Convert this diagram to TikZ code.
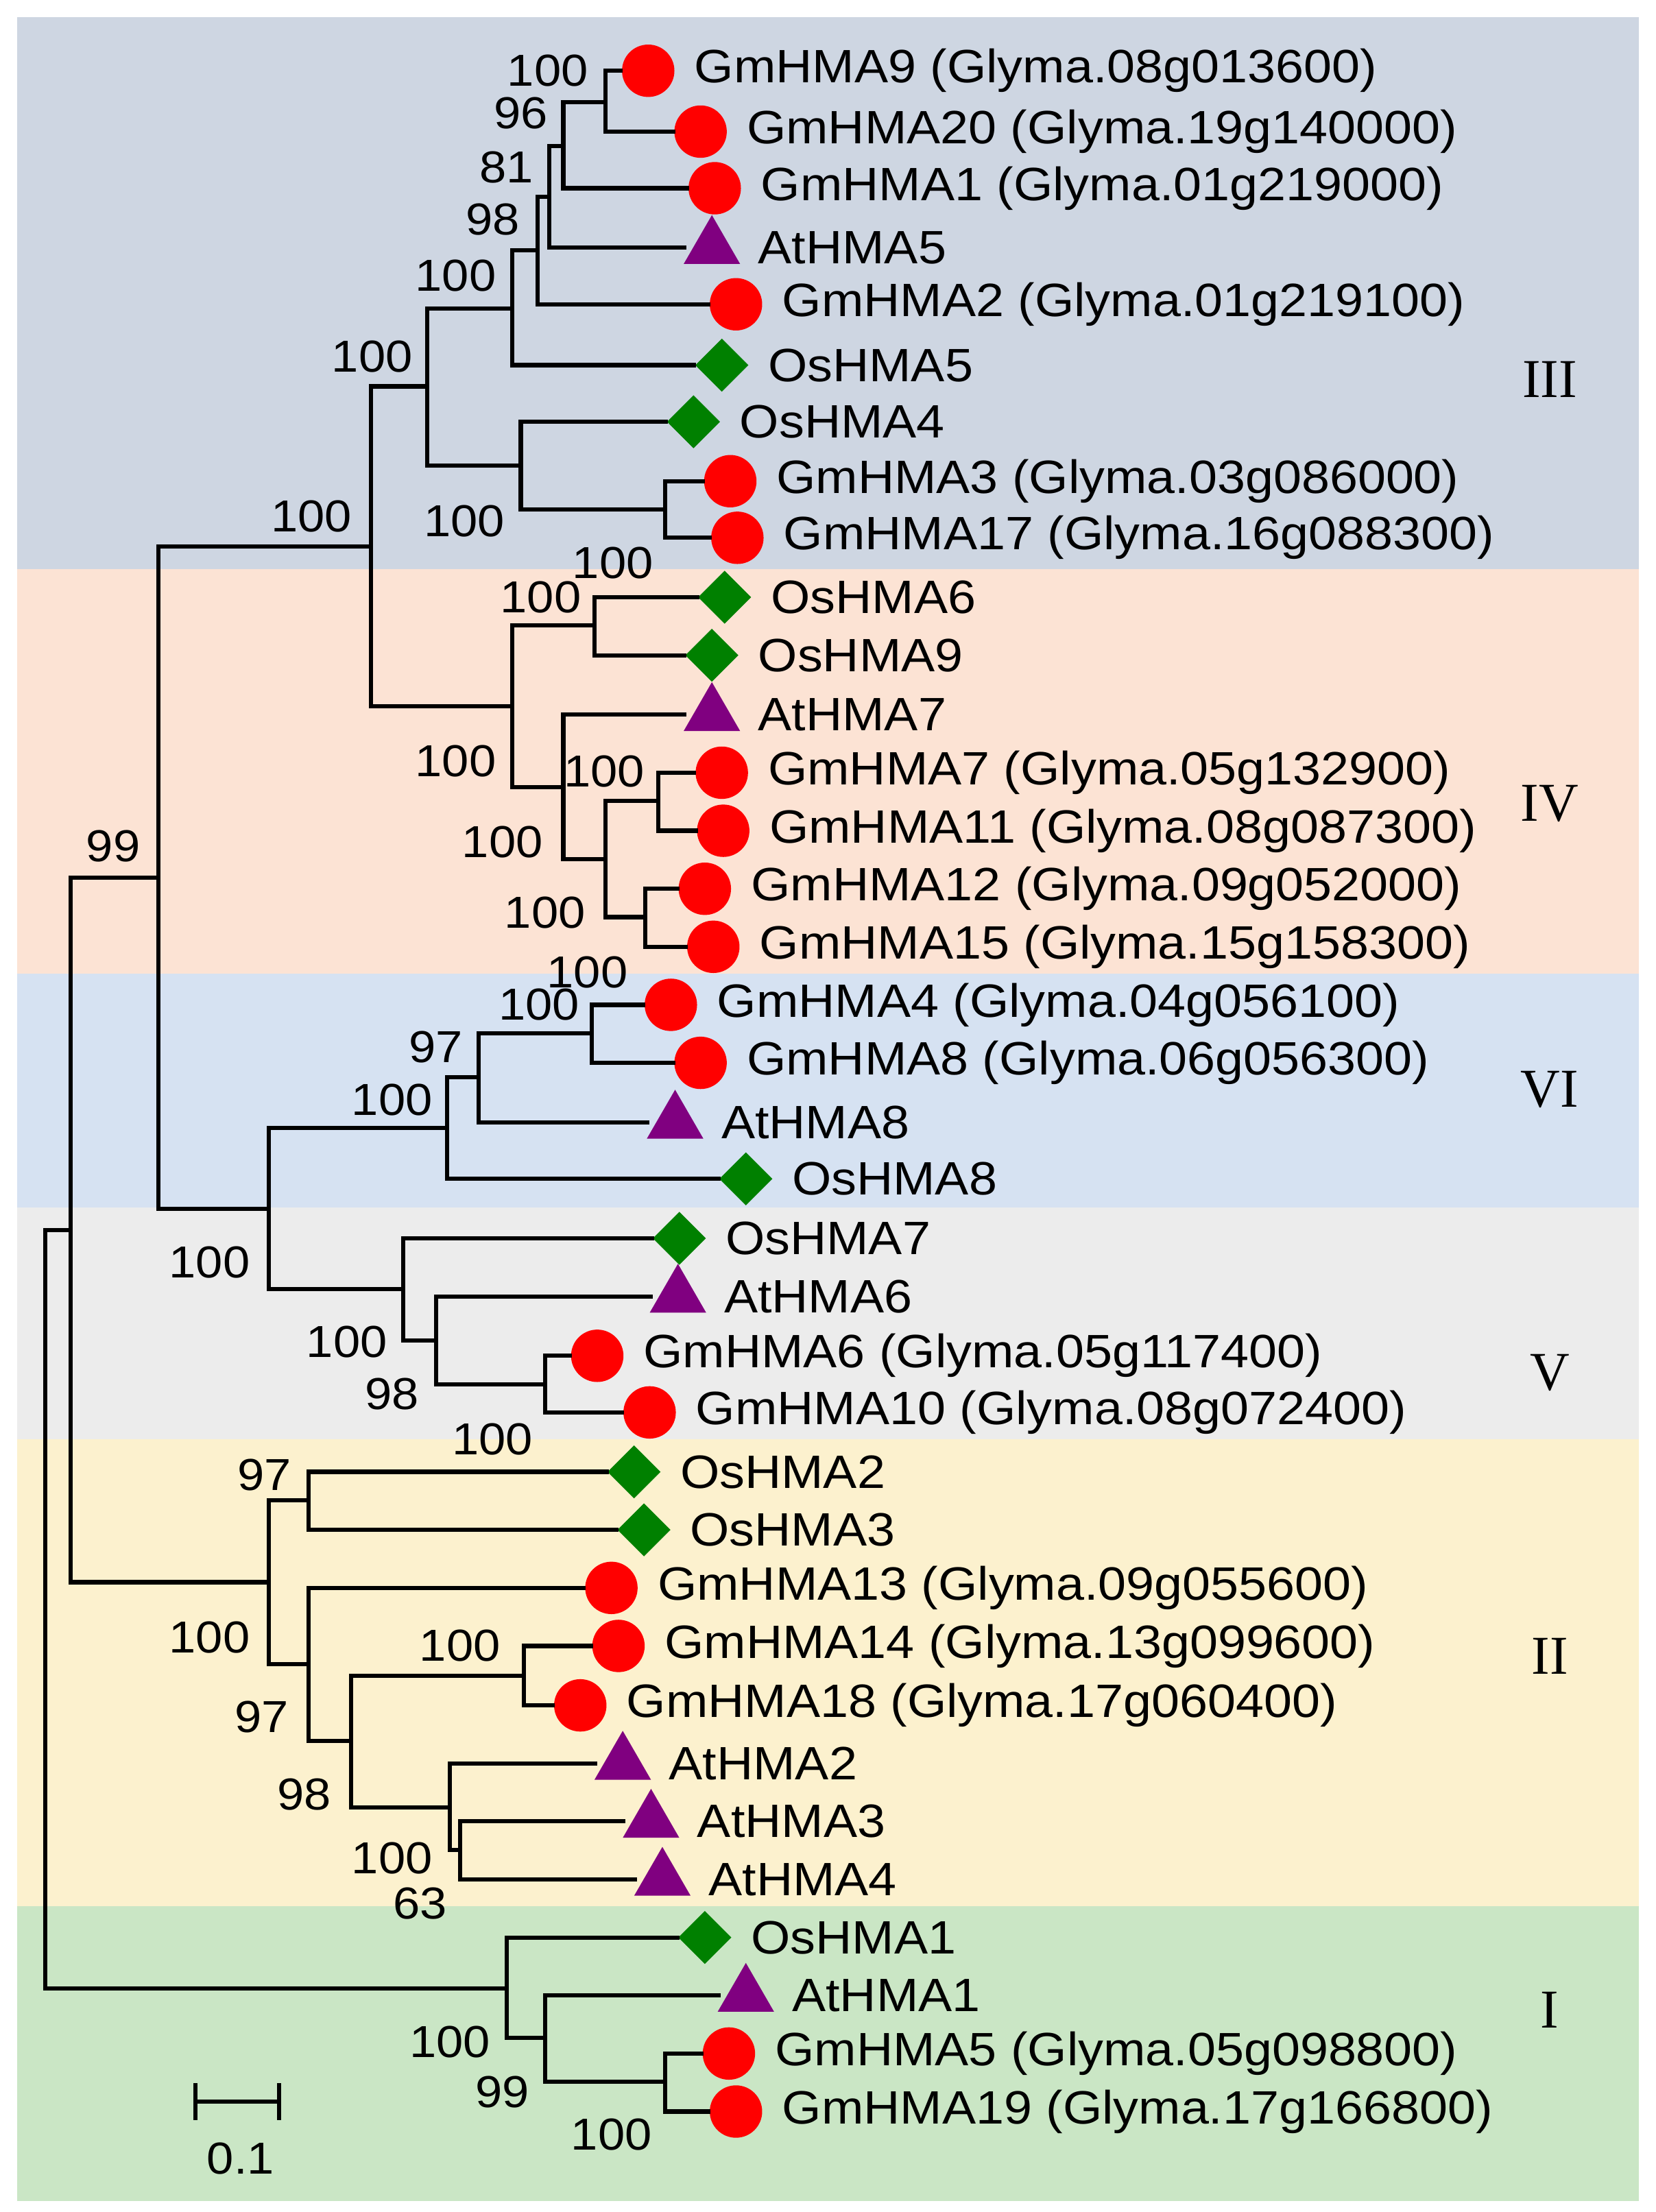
\documentclass[tikz,border=0pt]{standalone}
\usepackage{fontspec}
\setmainfont{Liberation Sans}[FakeStretch=1.08]
\newfontfamily\romf{Liberation Serif}
\usetikzlibrary{shapes.geometric}
\definecolor{cIII}{RGB}{206,214,226}
\definecolor{cIV}{RGB}{252,227,212}
\definecolor{cVI}{RGB}{214,226,242}
\definecolor{cV}{RGB}{236,236,236}
\definecolor{cII}{RGB}{252,241,206}
\definecolor{cI}{RGB}{202,230,197}
\definecolor{mred}{RGB}{255,0,0}
\definecolor{mpur}{RGB}{128,0,128}
\definecolor{mgrn}{RGB}{0,128,0}
\tikzset{
 br/.style={line width=0.85pt},
 lab/.style={font=\fontsize{9.4}{10}\selectfont,inner sep=0pt,anchor=west},
 bs/.style={font=\fontsize{9}{10}\selectfont,inner sep=0pt},
 rom/.style={font=\fontsize{11}{12}\selectfont\romf,inner sep=0pt},
 mgm/.style={circle,fill=mred,minimum size=0.37cm,inner sep=0pt},
 mat/.style={regular polygon,regular polygon sides=3,fill=mpur,minimum size=0.46cm,inner sep=0pt},
 mos/.style={diamond,fill=mgrn,minimum size=0.38cm,inner sep=0pt},
}
\newcommand\lf[5]{\coordinate (#1) at ({#3-18},#2); \node[#4] (#1m) at (#3,#2) {}; \node[lab] (#1t) at ({#3+32},#2) {#5};}
\begin{document}
\begin{tikzpicture}[x=0.01cm,y=-0.01cm]
\useasboundingbox (0,0) rectangle (1170,1563);
\fill[white] (0,0) rectangle (1170,1563);
\fill[cIII] (12,12) rectangle (1158,402);
\fill[cIV] (12,402) rectangle (1158,688);
\fill[cVI] (12,688) rectangle (1158,853);
\fill[cV] (12,853) rectangle (1158,1017);
\fill[cII] (12,1017) rectangle (1158,1347);
\fill[cI] (12,1347) rectangle (1158,1555);
\lf{L1}{50}{458}{mgm}{GmHMA9 (Glyma.08g013600)}
\lf{L2}{93}{495}{mgm}{GmHMA20 (Glyma.19g140000)}
\lf{L3}{133}{505}{mgm}{GmHMA1 (Glyma.01g219000)}
\lf{L4}{175}{503}{mat}{AtHMA5}
\lf{L5}{215}{520}{mgm}{GmHMA2 (Glyma.01g219100)}
\lf{L6}{258}{510}{mos}{OsHMA5}
\lf{L7}{298}{490}{mos}{OsHMA4}
\lf{L8}{340}{516}{mgm}{GmHMA3 (Glyma.03g086000)}
\lf{L9}{380}{521}{mgm}{GmHMA17 (Glyma.16g088300)}
\lf{L10}{422}{512}{mos}{OsHMA6}
\lf{L11}{463}{503}{mos}{OsHMA9}
\lf{L12}{505}{503}{mat}{AtHMA7}
\lf{L13}{546}{510}{mgm}{GmHMA7 (Glyma.05g132900)}
\lf{L14}{587}{511}{mgm}{GmHMA11 (Glyma.08g087300)}
\lf{L15}{628}{498}{mgm}{GmHMA12 (Glyma.09g052000)}
\lf{L16}{669}{504}{mgm}{GmHMA15 (Glyma.15g158300)}
\lf{L17}{710}{474}{mgm}{GmHMA4 (Glyma.04g056100)}
\lf{L18}{751}{495}{mgm}{GmHMA8 (Glyma.06g056300)}
\lf{L19}{793}{477}{mat}{AtHMA8}
\lf{L20}{833}{527}{mos}{OsHMA8}
\lf{L21}{875}{480}{mos}{OsHMA7}
\lf{L22}{916}{479}{mat}{AtHMA6}
\lf{L23}{958}{422}{mgm}{GmHMA6 (Glyma.05g117400)}
\lf{L24}{998}{459}{mgm}{GmHMA10 (Glyma.08g072400)}
\lf{L25}{1040}{448}{mos}{OsHMA2}
\lf{L26}{1081}{455}{mos}{OsHMA3}
\lf{L27}{1122}{432}{mgm}{GmHMA13 (Glyma.09g055600)}
\lf{L28}{1163}{437}{mgm}{GmHMA14 (Glyma.13g099600)}
\lf{L29}{1205}{410}{mgm}{GmHMA18 (Glyma.17g060400)}
\lf{L30}{1246}{440}{mat}{AtHMA2}
\lf{L31}{1287}{460}{mat}{AtHMA3}
\lf{L32}{1328}{468}{mat}{AtHMA4}
\lf{L33}{1369}{498}{mos}{OsHMA1}
\lf{L34}{1410}{527}{mat}{AtHMA1}
\lf{L35}{1451}{515}{mgm}{GmHMA5 (Glyma.05g098800)}
\lf{L36}{1492}{520}{mgm}{GmHMA19 (Glyma.17g166800)}
% internal nodes
\coordinate (a1) at (428,72); \coordinate (a2) at (398,103);
\coordinate (a3) at (388,139); \coordinate (a4) at (380,177);
\coordinate (a5) at (362,218); \coordinate (b1) at (470,360);
\coordinate (b2) at (368,329); \coordinate (c3) at (302,273);
\coordinate (d1) at (420,442); \coordinate (d2) at (465,566);
\coordinate (d3) at (456,648); \coordinate (d4) at (428,607);
\coordinate (d5) at (398,556); \coordinate (d6) at (362,499);
\coordinate (B) at (262,386);
\coordinate (e1) at (418,730); \coordinate (e2) at (338,761);
\coordinate (e3) at (316,797); \coordinate (f1) at (385,978);
\coordinate (f2) at (308,947); \coordinate (f3) at (285,911);
\coordinate (g) at (190,854); \coordinate (A) at (112,620);
\coordinate (h1) at (218,1060); \coordinate (h2) at (370,1184);
\coordinate (h3) at (325,1307); \coordinate (h4) at (318,1277);
\coordinate (h5) at (248,1230); \coordinate (h6) at (218,1176);
\coordinate (h7) at (190,1118); \coordinate (N) at (50,869);
\coordinate (i1) at (470,1471); \coordinate (i2) at (385,1440);
\coordinate (i3) at (358,1405); \coordinate (R) at (32,1137);
\foreach \p/\c in {a1/L1,a1/L2,a2/a1,a2/L3,a3/a2,a3/L4,a4/a3,a4/L5,a5/a4,a5/L6,
 b1/L8,b1/L9,b2/L7,b2/b1,c3/a5,c3/b2,d1/L10,d1/L11,d2/L13,d2/L14,d3/L15,d3/L16,
 d4/d2,d4/d3,d5/L12,d5/d4,d6/d1,d6/d5,B/c3,B/d6,e1/L17,e1/L18,e2/e1,e2/L19,e3/e2,e3/L20,
 f1/L23,f1/L24,f2/L22,f2/f1,f3/L21,f3/f2,g/e3,g/f3,A/B,A/g,
 h1/L25,h1/L26,h2/L28,h2/L29,h3/L31,h3/L32,h4/L30,h4/h3,h5/h2,h5/h4,h6/L27,h6/h5,
 h7/h1,h7/h6,N/A,N/h7,i1/L35,i1/L36,i2/L34,i2/i1,i3/L33,i3/i2,R/N,R/i3}
 \draw[br] (\p) |- (\c);
% bootstrap values
\foreach \t/\x/\y in {100/387/50,96/368/80,81/358/118,98/348/155,100/322/195,100/263/252,
 100/220/365,100/328/368,100/433/398,100/382/422,100/322/538,100/427/545,100/355/595,
 100/385/645,100/415/687,100/381/710,97/308/740,100/277/777,99/80/598,100/148/892,
 100/245/948,98/277/985,100/348/1017,97/187/1042,100/148/1157,100/325/1163,97/185/1213,
 98/215/1268,100/277/1313,63/297/1345,100/318/1443,99/355/1478,100/432/1508}
 \node[bs] at (\x,\y) {\t};
% clade numerals
\node[rom] (r3) at (1095,268) {III};
\node[rom] (r4) at (1095,568) {IV};
\node[rom] (r6) at (1095,770) {VI};
\node[rom] (r5) at (1095,970) {V};
\node[rom] (r2) at (1095,1170) {II};
\node[rom] (r1) at (1095,1420) {I};
% scale bar
\coordinate (s1) at (138,1485); \coordinate (s2) at (197,1485);
\draw[br] (s1) -- (s2);
\draw[br] (138,1472) -- (138,1498);
\draw[br] (197,1472) -- (197,1498);
\node[bs] (sl) at (170,1525) {0.1};
\end{tikzpicture}
\end{document}
